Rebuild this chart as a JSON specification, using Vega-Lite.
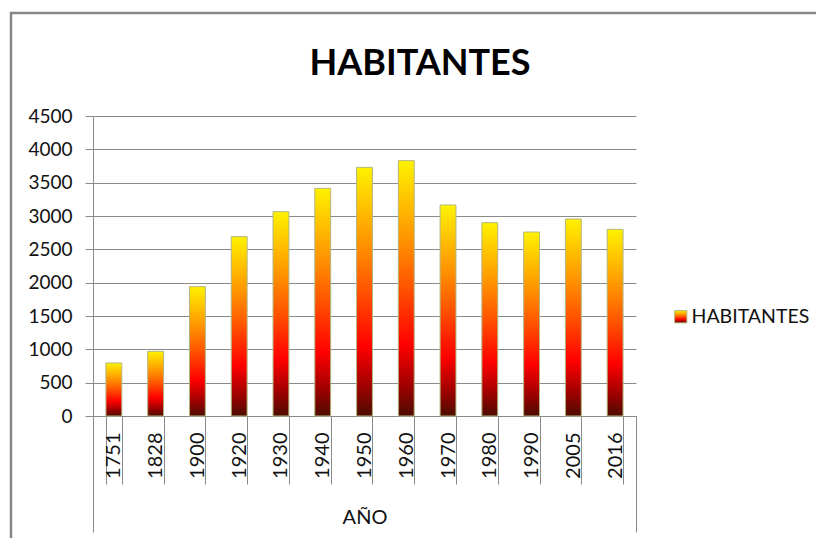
{
  "$schema": "https://vega.github.io/schema/vega-lite/v6.json",
  "autosize": "none",
  "padding": {"left": 11, "top": 13, "right": 0, "bottom": 0},
  "width": 808,
  "height": 528,
  "background": "white",
  "config": {
    "view": {"stroke": "#878787", "strokeWidth": 2.5},
    "font": "Lato"
  },
  "title": {
    "text": "HABITANTES",
    "font": "Lato",
    "fontSize": 36,
    "fontWeight": "bold",
    "color": "#000000",
    "anchor": "middle",
    "frame": "group",
    "dx": 5,
    "offset": -98,
    "baseline": "alphabetic"
  },
  "data": {
    "values": [
      {"anio": "1751", "habitantes": 795, "serie": "HABITANTES"},
      {"anio": "1828", "habitantes": 970, "serie": "HABITANTES"},
      {"anio": "1900", "habitantes": 1940, "serie": "HABITANTES"},
      {"anio": "1920", "habitantes": 2690, "serie": "HABITANTES"},
      {"anio": "1930", "habitantes": 3065, "serie": "HABITANTES"},
      {"anio": "1940", "habitantes": 3415, "serie": "HABITANTES"},
      {"anio": "1950", "habitantes": 3730, "serie": "HABITANTES"},
      {"anio": "1960", "habitantes": 3830, "serie": "HABITANTES"},
      {"anio": "1970", "habitantes": 3165, "serie": "HABITANTES"},
      {"anio": "1980", "habitantes": 2900, "serie": "HABITANTES"},
      {"anio": "1990", "habitantes": 2760, "serie": "HABITANTES"},
      {"anio": "2005", "habitantes": 2955, "serie": "HABITANTES"},
      {"anio": "2016", "habitantes": 2800, "serie": "HABITANTES"}
    ]
  },
  "resolve": {
    "scale": {"y": "independent"},
    "axis": {"x": "independent", "y": "independent"}
  },
  "layer": [
    {
      "mark": {
        "type": "bar",
        "strokeWidth": 1,
        "fill": {"gradient": "linear", "x1": 0, "y1": 0, "x2": 0, "y2": 1,
          "stops": [
            {"offset": 0, "color": "#fff200"},
            {"offset": 0.15, "color": "#ffc400"},
            {"offset": 0.33, "color": "#ff8c00"},
            {"offset": 0.5, "color": "#ff5200"},
            {"offset": 0.72, "color": "#ff0000"},
            {"offset": 0.88, "color": "#a00000"},
            {"offset": 1, "color": "#4d0c00"}
          ]}
      },
      "encoding": {
        "x": {
          "field": "anio",
          "type": "nominal",
          "sort": null,
          "scale": {"type": "band", "range": [82, 625], "paddingInner": 0.62, "paddingOuter": 0.31},
          "axis": {
            "orient": "bottom",
            "offset": -125,
            "title": "AÑO",
            "titleFont": "Lato",
            "titleFontSize": 20,
            "titleFontWeight": "normal",
            "titleColor": "#111111",
            "titleY": 107,
            "titleBaseline": "alphabetic",
            "labelAngle": -90,
            "labelFont": "Lato",
            "labelFontSize": 20,
            "labelColor": "#111111",
            "labelPadding": -52,
            "tickBand": "extent",
            "tickSize": 68,
            "tickColor": "#8a8a8a",
            "tickWidth": 1,
            "domainColor": "#8a8a8a",
            "domainWidth": 1,
            "grid": false
          }
        },
        "y": {
          "field": "habitantes",
          "type": "quantitative",
          "scale": {"domain": [0, 4500], "range": [403, 103], "nice": false, "zero": true},
          "axis": {
            "orient": "left",
            "offset": -82,
            "title": null,
            "values": [0, 500, 1000, 1500, 2000, 2500, 3000, 3500, 4000, 4500],
            "format": "d",
            "grid": true,
            "gridColor": "#8a8a8a",
            "gridWidth": 1,
            "tickSize": 8,
            "tickColor": "#8a8a8a",
            "domainColor": "#8a8a8a",
            "labelFont": "Lato",
            "labelFontSize": 19,
            "labelColor": "#111111",
            "labelPadding": 13
          }
        },
        "stroke": {
          "field": "serie",
          "type": "nominal",
          "scale": {"domain": ["HABITANTES"], "range": ["#b2b57c"]},
          "legend": {
            "title": null,
            "orient": "none",
            "legendX": 660,
            "legendY": 294,
            "symbolType": "square",
            "symbolSize": 150,
            "symbolStrokeWidth": 1,
            "labelFont": "Lato",
            "labelFontSize": 19.5,
            "labelColor": "#111111",
            "labelOffset": 1,
            "encode": {
              "symbols": {"update": {"fill": {"value": {"gradient": "linear", "x1": 0, "y1": 0, "x2": 0, "y2": 1,
                "stops": [
                  {"offset": 0, "color": "#fff200"},
                  {"offset": 0.33, "color": "#ff8c00"},
                  {"offset": 0.72, "color": "#ff0000"},
                  {"offset": 1, "color": "#4d0c00"}
                ]}}}}
            }
          }
        }
      }
    },
    {
      "mark": {"type": "bar", "opacity": 0},
      "encoding": {
        "x": {
          "field": "anio",
          "type": "nominal",
          "sort": null,
          "axis": {
            "orient": "top",
            "offset": -403,
            "values": ["1751"],
            "tickOffset": -20.9,
            "tickSize": -116,
            "tickColor": "#8a8a8a",
            "tickWidth": 1,
            "labels": false,
            "domain": false,
            "grid": false,
            "title": null
          }
        },
        "y": {
          "field": "habitantes",
          "type": "quantitative",
          "scale": {"domain": [0, 4500], "range": [519, 403], "nice": false, "zero": true},
          "axis": {
            "orient": "right",
            "offset": -183,
            "domain": true,
            "domainColor": "#8a8a8a",
            "domainWidth": 1,
            "ticks": false,
            "labels": false,
            "grid": false,
            "title": null
          }
        }
      }
    }
  ]
}
